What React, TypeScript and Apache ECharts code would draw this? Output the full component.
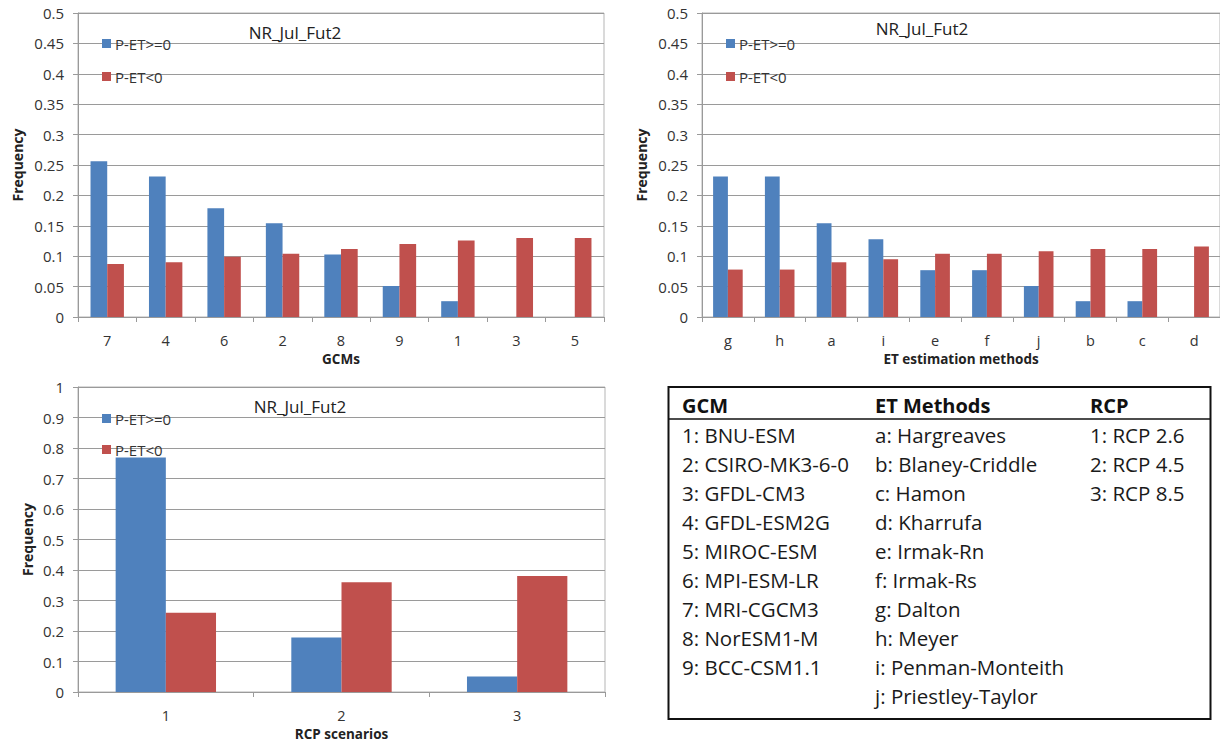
import React, { useEffect, useRef } from "react";
import * as echarts from "echarts";

const gcmCats = ["7", "4", "6", "2", "8", "9", "1", "3", "5"];
const gcmPos = [0.256, 0.231, 0.179, 0.154, 0.103, 0.051, 0.026, 0, 0];
const gcmNeg = [0.087, 0.09, 0.099, 0.104, 0.112, 0.12, 0.126, 0.13, 0.13];

const etCats = ["g", "h", "a", "i", "e", "f", "j", "b", "c", "d"];
const etPos = [0.231, 0.231, 0.154, 0.128, 0.077, 0.077, 0.051, 0.026, 0.026, 0];
const etNeg = [0.078, 0.078, 0.09, 0.095, 0.104, 0.104, 0.108, 0.112, 0.112, 0.116];

const rcpCats = ["1", "2", "3"];
const rcpPos = [0.769, 0.179, 0.051];
const rcpNeg = [0.26, 0.36, 0.38];

const seriesNames = ["P-ET>=0", "P-ET<0"];
const panelTitle = "NR_Jul_Fut2";
const xNames = ["GCMs", "ET estimation methods", "RCP scenarios"];
const yName = "Frequency";

const tableHeaders = ["GCM", "ET Methods", "RCP"];
const gcmList = [
  "1: BNU-ESM",
  "2: CSIRO-MK3-6-0",
  "3: GFDL-CM3",
  "4: GFDL-ESM2G",
  "5: MIROC-ESM",
  "6: MPI-ESM-LR",
  "7: MRI-CGCM3",
  "8: NorESM1-M",
  "9: BCC-CSM1.1",
];
const etList = [
  "a: Hargreaves",
  "b: Blaney-Criddle",
  "c: Hamon",
  "d: Kharrufa",
  "e: Irmak-Rn",
  "f: Irmak-Rs",
  "g: Dalton",
  "h: Meyer",
  "i: Penman-Monteith",
  "j: Priestley-Taylor",
];
const rcpList = ["1: RCP 2.6", "2: RCP 4.5", "3: RCP 8.5"];

const BLUE = "#4F81BD";
const RED = "#C0504D";
const GRID = "#9a9a9a";
const FONT = "'Open Sans', 'Noto Sans', sans-serif";

export default function App() {
  const ref = useRef<HTMLDivElement>(null);

  useEffect(() => {
    if (!ref.current) return;
    const chart = echarts.init(ref.current, undefined, { renderer: "svg" });

    const grids = [
      { left: 78, top: 13, width: 526, height: 304 },
      { left: 702, top: 13, width: 527, height: 304 },
      { left: 78, top: 387, width: 527, height: 305 },
    ];
    const cats = [gcmCats, etCats, rcpCats];
    const pos = [gcmPos, etPos, rcpPos];
    const neg = [gcmNeg, etNeg, rcpNeg];
    const yMax = [0.5, 0.5, 1];
    const yInt = [0.05, 0.05, 0.1];
    const yNameGap = [54, 54, 44];

    const xAxis = cats.map((c, i) => ({
      type: "category",
      gridIndex: i,
      data: c,
      name: xNames[i],
      nameLocation: "middle",
      nameGap: 35,
      nameTextStyle: {
        fontFamily: FONT,
        fontSize: 13.5,
        fontWeight: "bold",
        color: "#222",
        lineHeight: 14,
      },
      axisLine: { show: true, lineStyle: { color: GRID, width: 1 } },
      axisTick: { show: true, length: 5, lineStyle: { color: GRID } },
      axisLabel: {
        fontFamily: FONT,
        fontSize: 14.5,
        color: "#333",
        margin: 16,
        lineHeight: 15,
      },
      splitLine: { show: false },
    }));

    const yAxis = cats.map((_, i) => ({
      type: "value",
      gridIndex: i,
      min: 0,
      max: yMax[i],
      interval: yInt[i],
      name: yName,
      nameLocation: "middle",
      nameGap: yNameGap[i],
      nameRotate: 90,
      nameTextStyle: { fontFamily: FONT, fontSize: 14, fontWeight: "bold", color: "#222" },
      axisLine: { show: true, lineStyle: { color: GRID, width: 1 } },
      axisTick: { show: true, length: 5, lineStyle: { color: GRID } },
      axisLabel: { fontFamily: FONT, fontSize: 15, color: "#333", margin: 14 },
      splitLine: { show: true, lineStyle: { color: GRID, width: 1 } },
    }));

    const series: any[] = [];
    cats.forEach((_, i) => {
      series.push({
        type: "bar",
        name: seriesNames[0],
        xAxisIndex: i,
        yAxisIndex: i,
        data: pos[i],
        itemStyle: { color: BLUE },
        barGap: "0%",
        barCategoryGap: "42.86%",
      });
      series.push({
        type: "bar",
        name: seriesNames[1],
        xAxisIndex: i,
        yAxisIndex: i,
        data: neg[i],
        itemStyle: { color: RED },
        barGap: "0%",
        barCategoryGap: "42.86%",
      });
    });

    const legendPos = [
      { left: 102, top: 36, itemGap: 18 },
      { left: 726, top: 36, itemGap: 18 },
      { left: 102, top: 411, itemGap: 16 },
    ];
    const legend = legendPos.map((p) => ({
      data: seriesNames,
      orient: "vertical",
      left: p.left,
      top: p.top,
      itemGap: p.itemGap,
      itemWidth: 9,
      itemHeight: 9,
      icon: "rect",
      padding: 0,
      selectedMode: false,
      textStyle: { fontFamily: FONT, fontSize: 15, color: "#333", padding: [0, 0, 0, -1] },
    }));

    const titlePos = [
      [295, 32],
      [922, 28],
      [300, 406],
    ];
    const graphic: any[] = titlePos.map(([x, y]) => ({
      type: "text",
      x,
      y,
      style: {
        text: panelTitle,
        fontFamily: FONT,
        fontSize: 17,
        fill: "#222",
        textAlign: "center",
        textVerticalAlign: "middle",
      },
    }));

    // Legend table
    graphic.push({
      type: "rect",
      shape: { x: 668.5, y: 387, width: 542, height: 332 },
      style: { fill: "#fff", stroke: "#111", lineWidth: 2 },
    });
    graphic.push({
      type: "line",
      shape: { x1: 668.5, y1: 419, x2: 1210.5, y2: 419 },
      style: { stroke: "#111", lineWidth: 1.5 },
    });
    const colX = [682, 875, 1090];
    tableHeaders.forEach((h, i) => {
      graphic.push({
        type: "text",
        x: colX[i],
        y: 405,
        style: {
          text: h,
          fontFamily: FONT,
          fontSize: 20,
          fontWeight: "bold",
          fill: "#111",
          textAlign: "left",
          textVerticalAlign: "middle",
        },
      });
    });
    [gcmList, etList, rcpList].forEach((list, c) => {
      list.forEach((t, r) => {
        graphic.push({
          type: "text",
          x: colX[c],
          y: 435 + r * 29,
          style: {
            text: t,
            fontFamily: FONT,
            fontSize: 20.5,
            fill: "#1a1a1a",
            textAlign: "left",
            textVerticalAlign: "middle",
          },
        });
      });
    });

    chart.setOption({
      animation: false,
      backgroundColor: "#fff",
      grid: grids.map((g) => ({
        ...g,
        show: true,
        borderColor: "#b5b5b5",
        borderWidth: 1,
        backgroundColor: "transparent",
      })),
      xAxis,
      yAxis,
      legend,
      series,
      graphic,
    } as any);

    return () => chart.dispose();
  }, []);

  return (
    <div
      ref={ref}
      style={{ position: "absolute", left: 0, top: 0, width: 1220, height: 742 }}
    />
  );
}
